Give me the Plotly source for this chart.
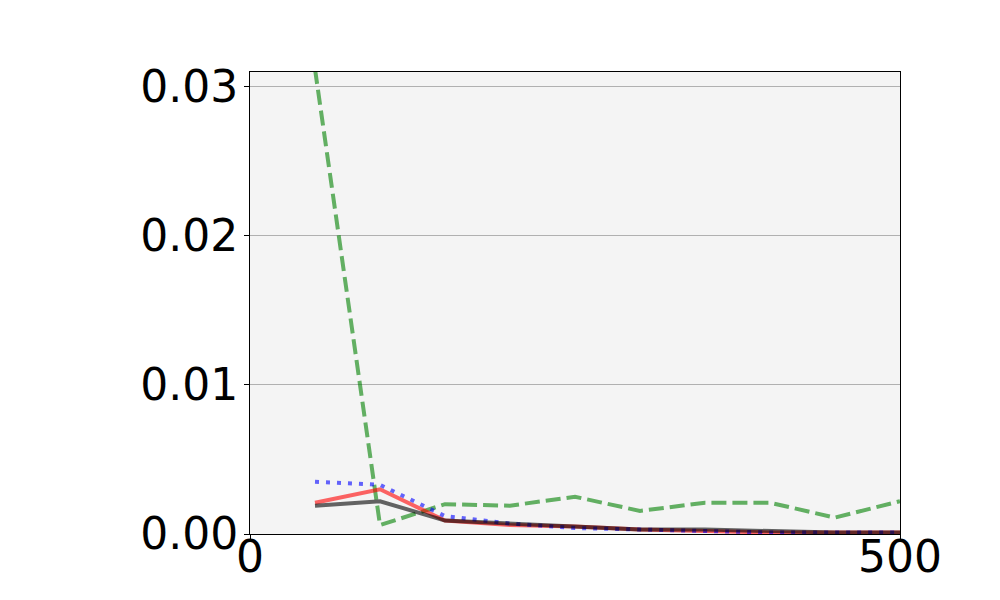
import plotly.graph_objects as go

x_vals = [50, 100, 150, 200, 250, 300, 350, 400, 450, 500]
green_vals = [0.0312, 0.0006, 0.0020, 0.0019, 0.0025, 0.00155, 0.0021, 0.0021, 0.0011, 0.0022]
red_vals = [0.0021, 0.0030, 0.0009, 0.0006, 0.0005, 0.0003, 0.0002, 0.0001, 0.0001, 0.0001]
blue_vals = [0.0035, 0.0033, 0.0012, 0.0007, 0.0004, 0.0003, 0.0002, 0.0001, 0.0001, 0.0001]
black_vals = [0.0019, 0.0022, 0.0009, 0.0007, 0.0005, 0.0003, 0.0003, 0.0002, 0.0001, 0.0001]
y_ticks = [0, 0.01, 0.02, 0.03]
x_ticks = [0, 500]

fig = go.Figure()
fig.add_trace(go.Scatter(x=x_vals, y=green_vals, mode="lines",
                         line=dict(color="rgba(0,128,0,0.6)", width=4, dash="15px,6px")))
fig.add_trace(go.Scatter(x=x_vals, y=red_vals, mode="lines",
                         line=dict(color="rgba(255,0,0,0.6)", width=4)))
fig.add_trace(go.Scatter(x=x_vals, y=blue_vals, mode="lines",
                         line=dict(color="rgba(0,0,255,0.6)", width=4, dash="4px,7px")))
fig.add_trace(go.Scatter(x=x_vals, y=black_vals, mode="lines",
                         line=dict(color="rgba(0,0,0,0.6)", width=4)))

fig.update_layout(
    width=992, height=592,
    margin=dict(l=242, r=100, t=64, b=66, autoexpand=False),
    paper_bgcolor="white",
    plot_bgcolor="#f4f4f4",
    showlegend=False,
    font=dict(family="DejaVu Sans", size=44, color="black"),
)
fig.update_xaxes(range=[0, 500], tickvals=x_ticks, showgrid=False, zeroline=False,
                 showline=True, linecolor="black", linewidth=1, mirror=True,
                 ticks="outside", ticklen=5, tickcolor="black",
                 automargin=False, ticklabelstandoff=-21)
fig.update_yaxes(range=[0, 0.031], tickvals=y_ticks, tickformat=".2f",
                 showgrid=True, gridcolor="#b0b0b0", gridwidth=1, zeroline=False,
                 showline=True, linecolor="black", linewidth=1, mirror=True,
                 ticks="outside", ticklen=5, tickcolor="black",
                 automargin=False, ticklabelstandoff=-3)

fig.write_html("out.html")
